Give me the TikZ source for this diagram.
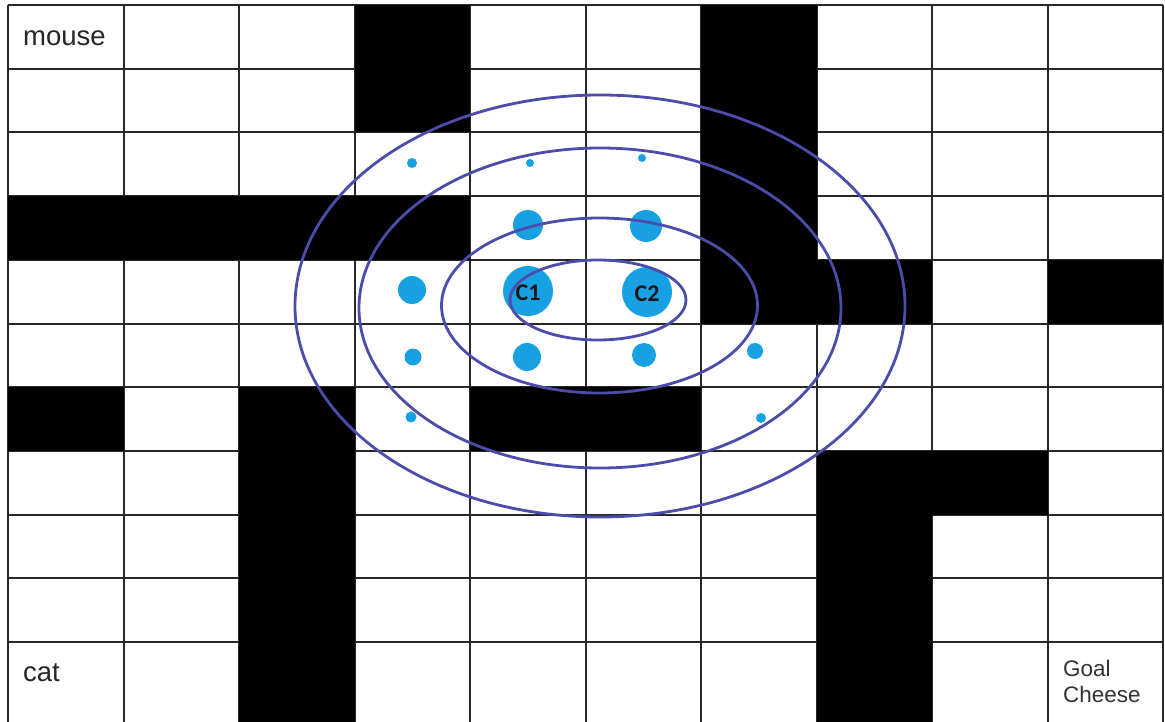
\documentclass[tikz,border=0pt]{standalone}
\usepackage{fontspec}
\setmainfont{Liberation Sans}
\newfontfamily\cfont{Carlito}
\definecolor{gridc}{RGB}{40,40,40}
\definecolor{ringc}{RGB}{76,76,170}
\definecolor{dotc}{RGB}{24,161,226}
\tikzset{
  wall/.style={fill=black},
  gridline/.style={draw=gridc, line width=2pt},
  ring/.style={draw=ringc, line width=2.8pt},
  blob/.style={fill=dotc},
  celltext/.style={inner sep=0pt, anchor=base west, text=black!85, font=\fontsize{27.5}{32}\selectfont},
  goaltext/.style={inner sep=0pt, anchor=base west, text=black!80, font=\fontsize{22.5}{26}\selectfont},
  clabel/.style={inner sep=0pt, text=black!90, font=\cfont\bfseries\fontsize{24}{28}\selectfont}
}
\begin{document}
\begin{tikzpicture}[x=1pt,y=-1pt]
\useasboundingbox (0,0) rectangle (1165,722);
\fill[white] (0,0) rectangle (1165,722);
% grid
\foreach \x in {8,123.5,239,354.5,470,585.5,701,816.5,932,1047.5,1163}
  \draw[gridline] (\x,5) -- (\x,722);
\foreach \y in {5,68.7,132.4,196.1,259.8,323.5,387.2,450.9,514.6,578.3,642}
  \draw[gridline] (8,\y) -- (1163,\y);
% walls
\fill[wall] (354.5,5) rectangle (470,132.4);
\fill[wall] (701,5) rectangle (816.5,323.5);
\fill[wall] (8,196.1) rectangle (470,259.8);
\fill[wall] (816.5,259.8) rectangle (932,323.5);
\fill[wall] (1047.5,259.8) rectangle (1163,323.5);
\fill[wall] (8,387.2) rectangle (123.5,450.9);
\fill[wall] (239,387.2) rectangle (354.5,722);
\fill[wall] (470,387.2) rectangle (701,450.9);
\fill[wall] (816.5,450.9) rectangle (1047.5,514.6);
\fill[wall] (816.5,514.6) rectangle (932,722);
% dots
\fill[blob] (412,163) circle (5);
\fill[blob] (530,163) circle (4);
\fill[blob] (642,158) circle (4);
\fill[blob] (528,225) circle (15);
\fill[blob] (646,226) circle (16);
\fill[blob] (412,290) circle (14);
\fill[blob] (528,291) circle (25);
\fill[blob] (647,292) circle (25);
\fill[blob] (413,357) circle (8.5);
\fill[blob] (527,357) circle (14);
\fill[blob] (644,355) circle (12);
\fill[blob] (755,351) circle (8);
\fill[blob] (411,417) circle (5.5);
\fill[blob] (761,418) circle (5);
% rings
\draw[ring] (598,300) ellipse [x radius=88, y radius=40];
\draw[ring] (599.5,305.5) ellipse [x radius=158, y radius=87.5];
\draw[ring] (600,308) ellipse [x radius=241, y radius=160];
\draw[ring] (600,306) ellipse [x radius=305, y radius=211];
% labels
\node[clabel] (c1) at (528,293) {C1};
\node[clabel] (c2) at (647,294) {C2};
\node[celltext] (mouse) at (23,46) {mouse};
\node[celltext] (cat) at (23,681) {cat};
\node[goaltext] (goal) at (1063,676) {Goal};
\node[goaltext] (cheese) at (1063,702) {Cheese};
\end{tikzpicture}
\end{document}
